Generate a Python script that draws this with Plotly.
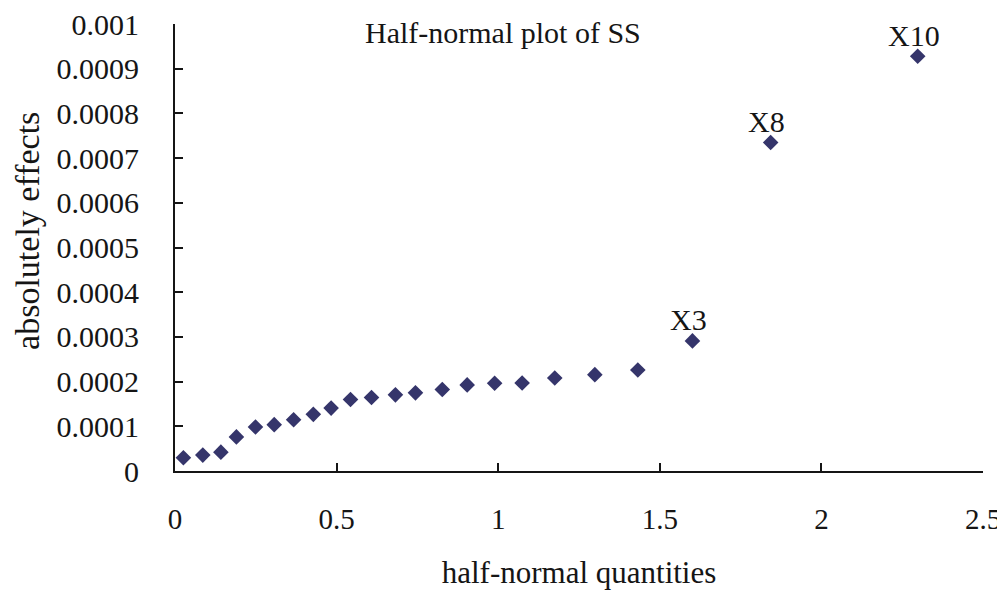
import plotly.graph_objects as go

# Half-normal quantities (x) and absolute effects (y)
quantiles = [0.026, 0.086, 0.142, 0.190, 0.249, 0.307, 0.367, 0.428, 0.483, 0.543,
             0.608, 0.682, 0.744, 0.827, 0.904, 0.989, 1.074, 1.175, 1.299, 1.432,
             1.601, 1.843, 2.298]
effects = [0.0000296, 0.0000356, 0.0000422, 0.0000763, 0.0000985, 0.0001037, 0.0001148,
           0.0001267, 0.0001407, 0.0001600, 0.0001644, 0.0001704, 0.0001748, 0.0001822,
           0.0001926, 0.0001963, 0.0001970, 0.0002082, 0.0002156, 0.0002260,
           0.000291, 0.000735, 0.000928]
labels = [""] * 20 + ["X3", "X8", "X10"]

x_ticks = [0, 0.5, 1, 1.5, 2, 2.5]
x_ticktext = ["0", "0.5", "1", "1.5", "2", "2.5"]
y_ticks = [0, 0.0001, 0.0002, 0.0003, 0.0004, 0.0005, 0.0006, 0.0007, 0.0008, 0.0009, 0.001]
y_ticktext = ["0", "0.0001", "0.0002", "0.0003", "0.0004", "0.0005", "0.0006",
              "0.0007", "0.0008", "0.0009", "0.001"]

FONT = "Liberation Serif, Times New Roman, serif"
INK = "#151515"

fig = go.Figure()
fig.add_trace(go.Scatter(
    x=quantiles, y=effects, mode="markers",
    marker=dict(symbol="diamond", size=12, color="#35356b"),
    showlegend=False, cliponaxis=False,
))

annotations = [
    dict(text="Half-normal plot of SS", x=0.406, y=0.98, xref="paper", yref="paper",
         xanchor="center", yanchor="middle", showarrow=False,
         font=dict(family=FONT, size=30, color=INK)),
    dict(text="absolutely effects", x=-0.182, y=0.537, xref="paper", yref="paper",
         xanchor="center", yanchor="middle", textangle=-90, showarrow=False,
         font=dict(family=FONT, size=34, color=INK)),
]
for qx, ey, lab in zip(quantiles, effects, labels):
    if lab:
        annotations.append(dict(
            text=lab, x=qx, y=ey, xref="x", yref="y",
            xanchor="center", yanchor="middle", xshift=-4, yshift=21,
            showarrow=False, font=dict(family=FONT, size=30, color=INK),
        ))

fig.update_layout(
    width=997, height=583,
    margin=dict(l=167, r=22, t=16, b=120),
    paper_bgcolor="white", plot_bgcolor="white",
    font=dict(family=FONT, size=30, color=INK),
    xaxis=dict(
        range=[0, 2.5], tickvals=x_ticks, ticktext=x_ticktext,
        tickfont=dict(family=FONT, size=29, color=INK),
        showline=True, linecolor=INK, linewidth=2,
        ticks="inside", ticklen=8, tickwidth=2, tickcolor=INK,
        showgrid=False, zeroline=False, automargin=False,
        ticklabelstandoff=21, ticklabeloverflow="allow",
        title=dict(text="half-normal quantities", standoff=28,
                   font=dict(family=FONT, size=31)),
    ),
    yaxis=dict(
        range=[0, 0.001], tickvals=y_ticks, ticktext=y_ticktext,
        showline=True, linecolor=INK, linewidth=2,
        ticks="inside", ticklen=8, tickwidth=2, tickcolor=INK,
        showgrid=False, zeroline=False, automargin=False,
        ticklabelstandoff=28, ticklabeloverflow="allow",
    ),
    annotations=annotations,
)

fig.write_html("out.html")
